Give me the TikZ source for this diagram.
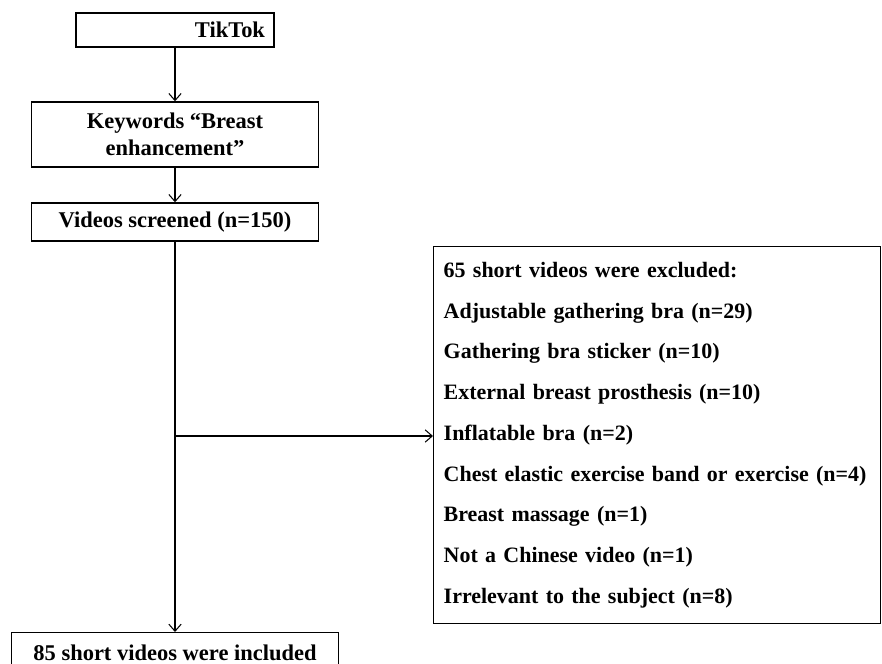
\documentclass[tikz,border=0pt]{standalone}
\usepackage{fontspec}
\setmainfont{Liberation Serif}
\usepackage{tikz}
\usetikzlibrary{arrows.meta}

\begin{document}
\begin{tikzpicture}[x=0.02cm,y=-0.02cm, >={Straight Barb[length=4pt,width=7pt]}]
        \tikzstyle{every node} = [rectangle, font=\fontsize{12.8}{15.5}\selectfont\bfseries]
        \tikzstyle{box} = [draw, line width=0.8pt, inner sep=0pt]
        \useasboundingbox (0,0) rectangle (882,663);
        \node[box, minimum width=3.96cm, minimum height=0.68cm, text width=3.6cm, align=right] (tiktok) at (175,30) {TikTok};
        \node[box, minimum width=5.74cm, minimum height=1.3cm, align=center] (keywords) at (175,134.5) {Keywords “Breast\\enhancement”};
        \node[box, minimum width=5.74cm, minimum height=0.76cm] (screened) at (175,222) {Videos screened (n=150)};
        \node[box, anchor=north west, minimum width=8.94cm, minimum height=7.54cm, inner xsep=0.2cm, inner ysep=6pt,
              text width=8.54cm, align=left, font=\fontsize{12.5}{23.2}\selectfont\bfseries] (excluded) at (433,246)
            {65 short videos were excluded:\\
             Adjustable gathering bra (n=29)\\
             Gathering bra sticker (n=10)\\
             External breast prosthesis (n=10)\\
             Inflatable bra (n=2)\\
             Chest elastic exercise band or exercise (n=4)\\
             Breast massage (n=1)\\
             Not a Chinese video (n=1)\\
             Irrelevant to the subject (n=8)};
        \node[box, anchor=north, minimum width=6.54cm, text height=0.56cm, text depth=0.3cm] (included) at (175,632) {85 short videos were included};
        \coordinate (branch) at (175,436);
        \foreach \from/\to in {tiktok/keywords, keywords/screened, screened/included}
            \draw[->, line width=0.6pt] (\from) -- (\to);
        \draw[->, line width=0.6pt] (branch) -- (branch -| excluded.west);
    \end{tikzpicture}
\end{document}
